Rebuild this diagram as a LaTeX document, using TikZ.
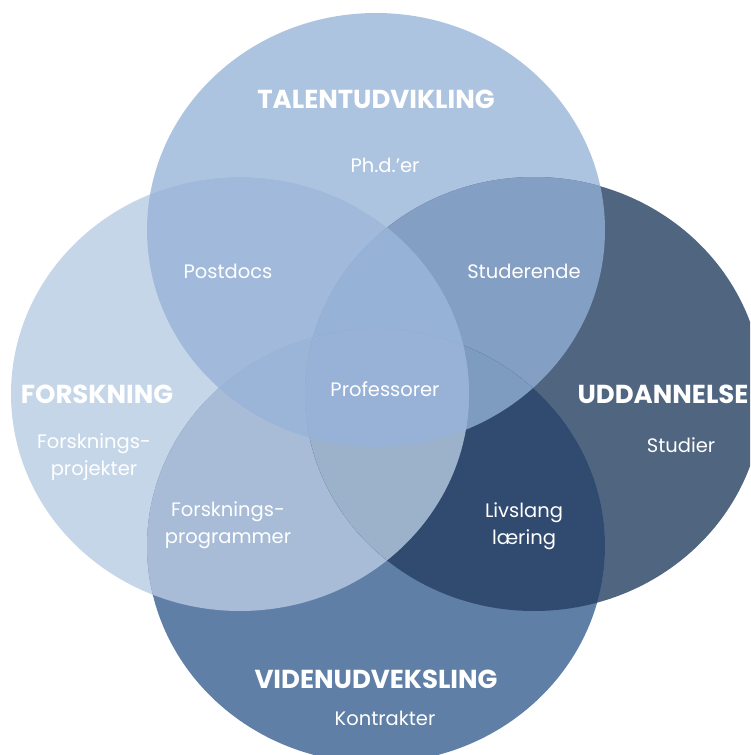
\documentclass[tikz,border=0pt]{standalone}
\usepackage{fontspec}
\setmainfont{Poppins}

\definecolor{cT}{HTML}{ADC4E0}
\definecolor{cL}{HTML}{C6D6E9}
\definecolor{cR}{HTML}{506580}
\definecolor{cB}{HTML}{5F7FA6}
\definecolor{cTL}{HTML}{A1BADB}
\definecolor{cTR}{HTML}{839FC3}
\definecolor{cTB}{HTML}{8FA9CC}
\definecolor{cLR}{HTML}{9BB0CA}
\definecolor{cLB}{HTML}{A8BCD8}
\definecolor{cRB}{HTML}{314B70}
\definecolor{cTLR}{HTML}{96B2D7}
\definecolor{cTLB}{HTML}{9AB5D8}
\definecolor{cTRB}{HTML}{7E9BC0}
\definecolor{cLRB}{HTML}{9CB1CA}
\definecolor{cTLRB}{HTML}{97B2D6}

\newcommand\talent{(376,230) ellipse [x radius=229, y radius=217]}
\newcommand\forsk{(240,394) ellipse [x radius=229, y radius=217]}
\newcommand\uddan{(534,394) ellipse [x radius=229, y radius=217]}
\newcommand\viden{(376,546) ellipse [x radius=229, y radius=217]}

\tikzset{
	heading/.style={text=white, inner sep=0, anchor=base, font=\bfseries\fontsize{26}{30}\selectfont},
	entry/.style={text=white, inner sep=0, anchor=base, align=center, font=\fontsize{19.5}{26.5}\selectfont}
}

\begin{document}
\begin{tikzpicture}[x=1pt,y=-1pt]
	\useasboundingbox (0,0) rectangle (750,755);
	\begin{scope}
	\clip (0,0) rectangle (750,755);

	\fill[cT] \talent;
	\fill[cL] \forsk;
	\fill[cR] \uddan;
	\fill[cB] \viden;

	% two circles
	\begin{scope} \clip \talent; \fill[cTL] \forsk; \end{scope}
	\begin{scope} \clip \talent; \fill[cTR] \uddan; \end{scope}
	\begin{scope} \clip \talent; \fill[cTB] \viden; \end{scope}
	\begin{scope} \clip \forsk; \fill[cLR] \uddan; \end{scope}
	\begin{scope} \clip \forsk; \fill[cLB] \viden; \end{scope}
	\begin{scope} \clip \uddan; \fill[cRB] \viden; \end{scope}

	% three circles
	\begin{scope} \clip \talent; \clip \forsk; \fill[cTLR] \uddan; \end{scope}
	\begin{scope} \clip \talent; \clip \forsk; \fill[cTLB] \viden; \end{scope}
	\begin{scope} \clip \talent; \clip \uddan; \fill[cTRB] \viden; \end{scope}
	\begin{scope} \clip \forsk; \clip \uddan; \fill[cLRB] \viden; \end{scope}

	% all four
	\begin{scope} \clip \talent; \clip \forsk; \clip \uddan; \fill[cTLRB] \viden; \end{scope}
	\end{scope}

	\node[heading] (talent) at (376,108) {TALENTUDVIKLING};
	\node[entry] (phd) at (385,172) {Ph.d.’er};
	\node[entry] (postdocs) at (228,278) {Postdocs};
	\node[entry] (studerende) at (524,278) {Studerende};
	\node[entry] (professorer) at (385,396) {Professorer};

	\node[heading] (forskning) at (97,403) {FORSKNING};
	\node[entry] (projekter) at (94,475) {Forsknings-\\projekter};
	\node[entry] (programmer) at (228,543) {Forsknings-\\programmer};

	\node[heading] (uddannelse) at (663,403) {UDDANNELSE};
	\node[entry] (studier) at (681,452) {Studier};
	\node[entry] (livslang) at (524,544) {Livslang\\læring};

	\node[heading] (viden) at (376,688) {VIDENUDVEKSLING};
	\node[entry] (kontrakter) at (385,725) {Kontrakter};
\end{tikzpicture}
\end{document}
